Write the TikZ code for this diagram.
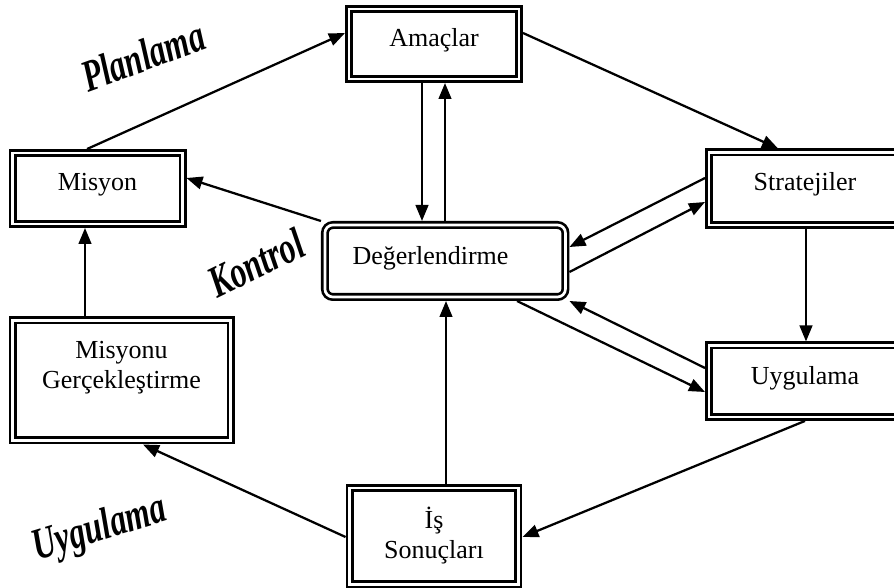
\documentclass[tikz,border=0pt]{standalone}
\usepackage{fontspec}
\setmainfont{Liberation Serif}
\usetikzlibrary{arrows.meta}
\begin{document}
\begin{tikzpicture}[x=0.75pt,y=-0.75pt,
  box/.style={draw,double,line width=2pt,double distance=2pt,inner sep=0pt,outer sep=3pt},
  txt/.style={font=\fontsize{19.5}{22.5}\selectfont,align=center,inner sep=0pt},
  arr/.style={line width=1.7pt,-{Triangle[length=12pt,width=9.5pt]}},
  wa/.style={font=\fontsize{24}{28}\selectfont\bfseries\itshape,inner sep=0pt}]
\fill[white] (0,0) rectangle (894,588);
\useasboundingbox (0,0) rectangle (894,588);
% boxes
\node[box,minimum width=127.5pt,minimum height=52.5pt] (amac) at (434,44) {};
\node[box,minimum width=127.5pt,minimum height=53.2pt] (mis) at (97.5,188.5) {};
\node[box,minimum width=144pt,minimum height=54.4pt] (str) at (805,188.7) {};
\node[box,minimum width=144pt,minimum height=53.6pt] (uyg) at (805,381.2) {};
\node[box,rounded corners=6pt,minimum width=180.4pt,minimum height=54pt] (deg) at (445.2,261) {};
\node[box,minimum width=163.5pt,minimum height=90pt] (mg) at (121.5,380.5) {};
\node[box,minimum width=126.7pt,minimum height=72.4pt] (is) at (434,536.2) {};
% texts
\node[txt] (amact) at ([yshift=2.5pt]amac.center) {Amaçlar};
\node[txt] (mist) at ([yshift=3pt]mis.center) {Misyon};
\node[txt] (strt) at ([yshift=3.5pt]str.center) {Stratejiler};
\node[txt] (uygt) at ([yshift=2.5pt]uyg.center) {Uygulama};
\node[txt] (degt) at ([xshift=-11pt,yshift=2pt]deg.center) {Değerlendirme};
\node[txt] (mgt) at ([yshift=9.5pt]mg.center) {Misyonu\\Gerçekleştirme};
\node[txt] (ist) at ([yshift=0.5pt]is.center) {İş\\Sonuçları};
% wordart labels
\node[wa,rotate=20,yscale=1.4] (plan) at (143,56) {Planlama};
\node[wa,rotate=26,yscale=1.4] (kont) at (256,263) {Kontrol};
\node[wa,rotate=17,yscale=1.4] (uygl) at (100,530) {Uygulama};
% connectors
\draw[arr] (mis.north -| 87,0) -- (amac.west |- 0,33);
\draw[arr] (amac.east |- 0,33) -- (str.north -| 778,0);
\draw[arr] (amac.south -| 422,0) -- (deg.north -| 422,0);
\draw[arr] (deg.north -| 445,0) -- (amac.south -| 445,0);
\draw[arr] (str.south -| 806,0) -- (uyg.north -| 806,0);
\draw[arr] (str.west |- 0,178) -- (deg.east |- 0,247);
\draw[arr] (deg.east |- 0,272) -- (str.west |- 0,202);
\draw[arr] (uyg.west |- 0,368) -- (deg.south east);
\draw[arr] (deg.south -| 517,0) -- (uyg.west |- 0,392);
\draw[arr] (uyg.south -| 805,0) -- (is.east |- 0,537);
\draw[arr] (is.north -| 446,0) -- (deg.south -| 446,0);
\draw[arr] (is.west |- 0,537) -- (mg.south -| 143,0);
\draw[arr] (mg.north -| 85,0) -- (mis.south -| 85,0);
\draw[arr] (deg.north west) -- (mis.east |- 0,178);
\end{tikzpicture}
\end{document}
